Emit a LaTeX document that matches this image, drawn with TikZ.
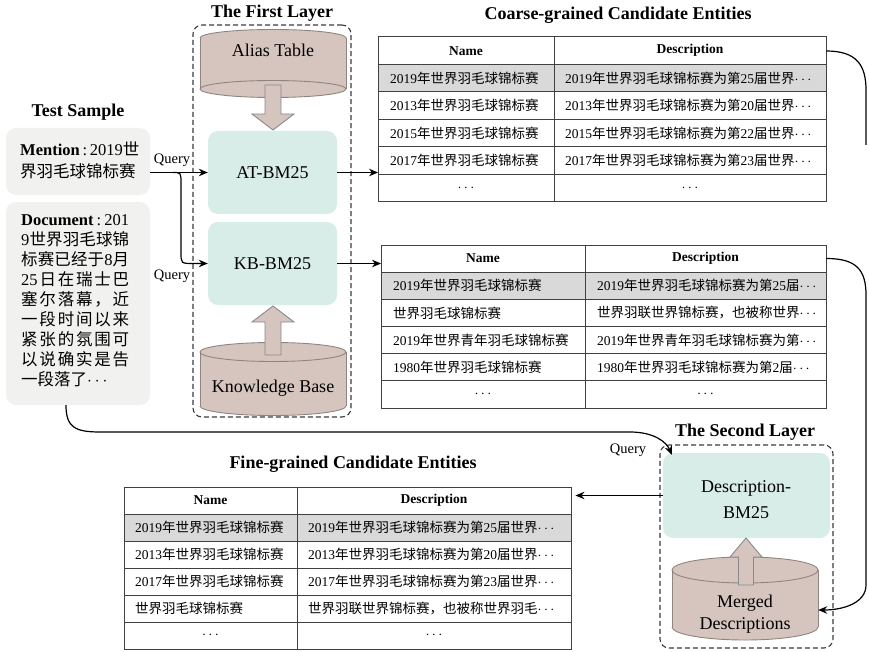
\documentclass[tikz,border=0pt]{standalone}
\usepackage{fontspec}
\setmainfont{Liberation Serif}
\newfontfamily\cjk{Noto Sans CJK SC}
\newcommand\zh[1]{{\cjk #1}}
\def\spr#1#2\sprend{#1\ifx\relax#2\relax\else\hfill\spr#2\sprend\fi}
\newcommand\dl[1]{\leavevmode\hbox to 108pt{\cjk\spr#1\sprend}}
\usetikzlibrary{arrows.meta}
\definecolor{samplegray}{HTML}{F1F1EF}
\definecolor{tealbox}{HTML}{D8ECE8}
\definecolor{cylfill}{HTML}{D5C5BE}
\definecolor{cylline}{HTML}{8F8580}
\definecolor{arrline}{HTML}{8A8A8A}
\definecolor{rowgray}{HTML}{D9D9D9}
\definecolor{tline}{HTML}{404040}
\definecolor{framecol}{HTML}{3C3C3C}
\newcommand\cylbody[5]{%
  \fill[cylfill] (#1-#4,#2) rectangle (#1+#4,#3);
  \fill[cylfill] (#1,#2) ellipse [x radius=#4, y radius=#5];
  \fill[cylfill] (#1,#3) ellipse [x radius=#4, y radius=#5];
  \draw[cylline,line width=0.9pt] (#1-#4,#2) -- (#1-#4,#3) (#1+#4,#2) -- (#1+#4,#3);
}
\newcommand\cylup[5]{\cylbody{#1}{#2}{#3}{#4}{#5}
  \draw[cylline,line width=0.9pt] (#1,#2) ellipse [x radius=#4, y radius=#5];
  \begin{scope}\clip (#1-#4-3,#3) rectangle (#1+#4+3,#3+#5+3);
  \draw[cylline,line width=0.9pt] (#1,#3) ellipse [x radius=#4, y radius=#5];\end{scope}}
\newcommand\cyldown[5]{\cylbody{#1}{#2}{#3}{#4}{#5}
  \draw[cylline,line width=0.9pt] (#1,#3) ellipse [x radius=#4, y radius=#5];
  \begin{scope}\clip (#1-#4-3,#2-#5-3) rectangle (#1+#4+3,#2);
  \draw[cylline,line width=0.9pt] (#1,#2) ellipse [x radius=#4, y radius=#5];\end{scope}}
\newcommand\tgrid[5]{% x0, xm, x1, y0, h
  \fill[rowgray] (#1,#4+#5) rectangle (#3,#4+2*#5);
  \foreach \k in {1,...,5}{\draw[tl] (#1,#4+\k*#5) -- (#3,#4+\k*#5);}
  \draw[tl] (#2,#4) -- (#2,#4+6*#5);
  \draw[tl] (#1,#4) rectangle (#3,#4+6*#5);
}
\begin{document}
\begin{tikzpicture}[x=1pt,y=-1pt,
  title/.style={font=\fontsize{18}{20}\selectfont\bfseries, inner sep=0},
  lbl/.style={font=\fontsize{18}{22}\selectfont, align=center, inner sep=0},
  qlbl/.style={font=\fontsize{14.5}{16}\selectfont, inner sep=0},
  sbox/.style={fill=samplegray, rounded corners=10pt, inner sep=0, minimum width=144pt},
  tbox/.style={fill=tealbox, rounded corners=10pt, inner sep=0},
  frame/.style={draw=framecol, line width=1.1pt, rounded corners=9pt, dash pattern=on 5pt off 3pt, inner sep=0},
  conn/.style={line width=1.2pt},
  tip/.style={-{Stealth[length=9pt,width=7.5pt]}},
  hollow/.style={fill=cylfill, draw=arrline, line width=0.9pt},
  cell/.style={font=\fontsize{13.5}{15}\selectfont, inner sep=0, anchor=west},
  ccell/.style={font=\fontsize{13.5}{15}\selectfont, inner sep=0},
  head/.style={font=\fontsize{13.5}{15}\selectfont\bfseries, inner sep=0},
  tl/.style={draw=tline, line width=1pt},
  tab/.style={inner sep=0, anchor=north west}
]
\useasboundingbox (0,0) rectangle (869,652);

% ---------- Test sample ----------
\node[title] (t3) at (78,112) {Test Sample};
\node[sbox, minimum height=67pt] (mention) at (78,161.5) {};
\node[sbox, minimum height=203pt] (doc) at (78,303.5) {};
\node[anchor=north west, inner sep=0, text width=118pt, align=left,
      font=\fontsize{16.5}{22}\selectfont] (mentiontxt) at (20,141.5)
  {\textbf{Mention}\,:\,2019\zh{世}\\ \zh{界羽毛球锦标赛}};
\node[anchor=north west, inner sep=0, text width=110pt, align=left,
      font=\fontsize{16.5}{20}\selectfont] (doctxt) at (21,214)
  {\leavevmode\hbox to 108pt{\textbf{Document}\hfill:\hfill 201}\\
   \dl{{{\rmfamily 9}}世界羽毛球锦}\\
   \dl{标赛已经于{{\rmfamily 8}}月}\\
   \dl{{{\rmfamily 25}}日在瑞士巴}\\
   \dl{塞尔落幕，近}\\
   \dl{一段时间以来}\\
   \dl{紧张的氛围可}\\
   \dl{以说确实是告}\\
   \zh{一段落了}$\cdots$};

% ---------- First layer ----------
\node[frame, minimum width=158pt, minimum height=392pt] (layer1) at (272,221) {};
\node[title] (t1) at (272,13) {The First Layer};
\cyldown{273}{38}{89}{73}{8.5}
\node[lbl] (alias) at (273,50) {Alias Table};
\cylup{273}{352}{406}{73}{9.5}
\node[lbl] (kbase) at (273,388) {Knowledge Base};
\node[tbox, minimum width=129pt, minimum height=83pt] (at) at (272.5,172.5) {};
\node[lbl] (attxt) at (at.center) {AT-BM25};
\node[tbox, minimum width=129pt, minimum height=83pt] (kb) at (272.5,263.5) {};
\node[lbl] (kbtxt) at (kb.center) {KB-BM25};
\draw[hollow] (265,85) -- (281,85) -- (281,114) -- (294,114) -- (273,130) -- (252,114) -- (265,114) -- cycle;
\draw[hollow] (265,355) -- (281,355) -- (281,322) -- (294,322) -- (273,306) -- (252,322) -- (265,322) -- cycle;

% ---------- Coarse table ----------
\node[title] (t2) at (618,15) {Coarse-grained Candidate Entities};
\tgrid{378}{554}{826}{37}{27.5}
\node[tab, minimum width=448pt, minimum height=165pt] (coarse) at (378,37) {};
\node[head] (c1h1) at (466,50.75) {Name};
\node[head] (c1h2) at (690,50.75) {Description};
\node[cell] (c1a1) at (390,78.25) {2019\zh{年世界羽毛球锦标赛}};
\node[cell] (c1b1) at (565,78.25) {2019\zh{年世界羽毛球锦标赛为第}25\zh{届世界}$\cdots$};
\node[cell] (c1a2) at (390,105.75) {2013\zh{年世界羽毛球锦标赛}};
\node[cell] (c1b2) at (565,105.75) {2013\zh{年世界羽毛球锦标赛为第}20\zh{届世界}$\cdots$};
\node[cell] (c1a3) at (390,133.25) {2015\zh{年世界羽毛球锦标赛}};
\node[cell] (c1b3) at (565,133.25) {2015\zh{年世界羽毛球锦标赛为第}22\zh{届世界}$\cdots$};
\node[cell] (c1a4) at (390,160.75) {2017\zh{年世界羽毛球锦标赛}};
\node[cell] (c1b4) at (565,160.75) {2017\zh{年世界羽毛球锦标赛为第}23\zh{届世界}$\cdots$};
\node[ccell] (c1a5) at (466,188.25) {$\cdots$};
\node[ccell] (c1b5) at (690,188.25) {$\cdots$};

% ---------- KB table ----------
\tgrid{381}{585}{826}{245}{27.17}
\node[tab, minimum width=445pt, minimum height=163pt] (kbtab) at (381,245) {};
\node[head] (c2h1) at (483,258.6) {Name};
\node[head] (c2h2) at (705.5,258.6) {Description};
\node[cell] (c2a1) at (393,285.75) {2019\zh{年世界羽毛球锦标赛}};
\node[cell] (c2b1) at (597,285.75) {2019\zh{年世界羽毛球锦标赛为第}25\zh{届}$\cdots$};
\node[cell] (c2a2) at (393,312.9) {\zh{世界羽毛球锦标赛}};
\node[cell] (c2b2) at (597,312.9) {\zh{世界羽联世界锦标赛，也被称世界}$\cdots$};
\node[cell] (c2a3) at (393,340.1) {2019\zh{年世界青年羽毛球锦标赛}};
\node[cell] (c2b3) at (597,340.1) {2019\zh{年世界青年羽毛球锦标赛为第}$\cdots$};
\node[cell] (c2a4) at (393,367.3) {1980\zh{年世界羽毛球锦标赛}};
\node[cell] (c2b4) at (597,367.3) {1980\zh{年世界羽毛球锦标赛为第}2\zh{届}$\cdots$};
\node[ccell] (c2a5) at (483,394.4) {$\cdots$};
\node[ccell] (c2b5) at (705.5,394.4) {$\cdots$};

% ---------- Fine table ----------
\node[title] (t4) at (353,464) {Fine-grained Candidate Entities};
\tgrid{124}{297}{571}{487}{27}
\node[tab, minimum width=447pt, minimum height=162pt] (fine) at (124,487) {};
\node[head] (c3h1) at (210.5,500.5) {Name};
\node[head] (c3h2) at (434,500.5) {Description};
\node[cell] (c3a1) at (135,527.5) {2019\zh{年世界羽毛球锦标赛}};
\node[cell] (c3b1) at (308,527.5) {2019\zh{年世界羽毛球锦标赛为第}25\zh{届世界}$\cdots$};
\node[cell] (c3a2) at (135,554.5) {2013\zh{年世界羽毛球锦标赛}};
\node[cell] (c3b2) at (308,554.5) {2013\zh{年世界羽毛球锦标赛为第}20\zh{届世界}$\cdots$};
\node[cell] (c3a3) at (135,581.5) {2017\zh{年世界羽毛球锦标赛}};
\node[cell] (c3b3) at (308,581.5) {2017\zh{年世界羽毛球锦标赛为第}23\zh{届世界}$\cdots$};
\node[cell] (c3a4) at (135,608.5) {\zh{世界羽毛球锦标赛}};
\node[cell] (c3b4) at (308,608.5) {\zh{世界羽联世界锦标赛，也被称世界羽毛}$\cdots$};
\node[ccell] (c3a5) at (210.5,635.5) {$\cdots$};
\node[ccell] (c3b5) at (434,635.5) {$\cdots$};

% ---------- Second layer ----------
\node[frame, minimum width=173pt, minimum height=203pt] (layer2) at (746.5,546.5) {};
\node[title] (t5) at (745,432) {The Second Layer};
\node[tbox, minimum width=167pt, minimum height=85pt] (desc) at (746.5,495.5) {};
\node[lbl, font=\fontsize{18}{26}\selectfont] (desctxt) at (746,500) {Description-\\BM25};
\cylup{745}{570}{627}{73}{13}
\node[lbl, minimum width=146pt] (merged) at (745,614) {Merged\\Descriptions};
\draw[hollow] (738.5,585) -- (753.5,585) -- (753.5,557) -- (762,557) -- (746,538) -- (730,557) -- (738.5,557) -- cycle;

% ---------- Connectors ----------
\node[qlbl] (q1) at (172,160) {Query};
\node[qlbl] (q2) at (172,276) {Query};
\node[qlbl] (q3) at (628,450) {Query};
\draw[conn,tip] (mention.east |- at.west) -- (at.west);
\coordinate (qsplit) at (173,172.5);
\draw[conn,tip] (qsplit) .. controls (181,172.5) .. (181,184) -- (181,252) .. controls (181,263.5) .. (193,263.5) -- (kb.west);
\draw[conn,tip] (at.east) -- (at.east -| coarse.west);
\draw[conn,tip] (kb.east) -- (kb.east -| kbtab.west);
\draw[conn,tip] (desc.west) -- ([xshift=4pt]desc.west -| fine.east);
\coordinate (c1end) at (866,145);
\draw[conn] ([yshift=-14pt]coarse.north east) .. controls +(30,0) and +(0,-25) .. (866,90) -- (c1end);
\draw[conn,tip] ([yshift=-13.5pt]kbtab.north east) .. controls +(30,0) and +(0,-25) .. (866,295) -- (866,585) .. controls +(0,18) and +(25,0) .. (merged.east |- 0,610);
\draw[conn,tip] ([xshift=-12pt]doc.south) .. controls +(0,22) and +(-25,0) .. (100,432) -- (630,432) .. controls +(25,0) and +(-5,-12) .. ([xshift=9pt,yshift=-2pt]desc.north west);
\end{tikzpicture}
\end{document}
